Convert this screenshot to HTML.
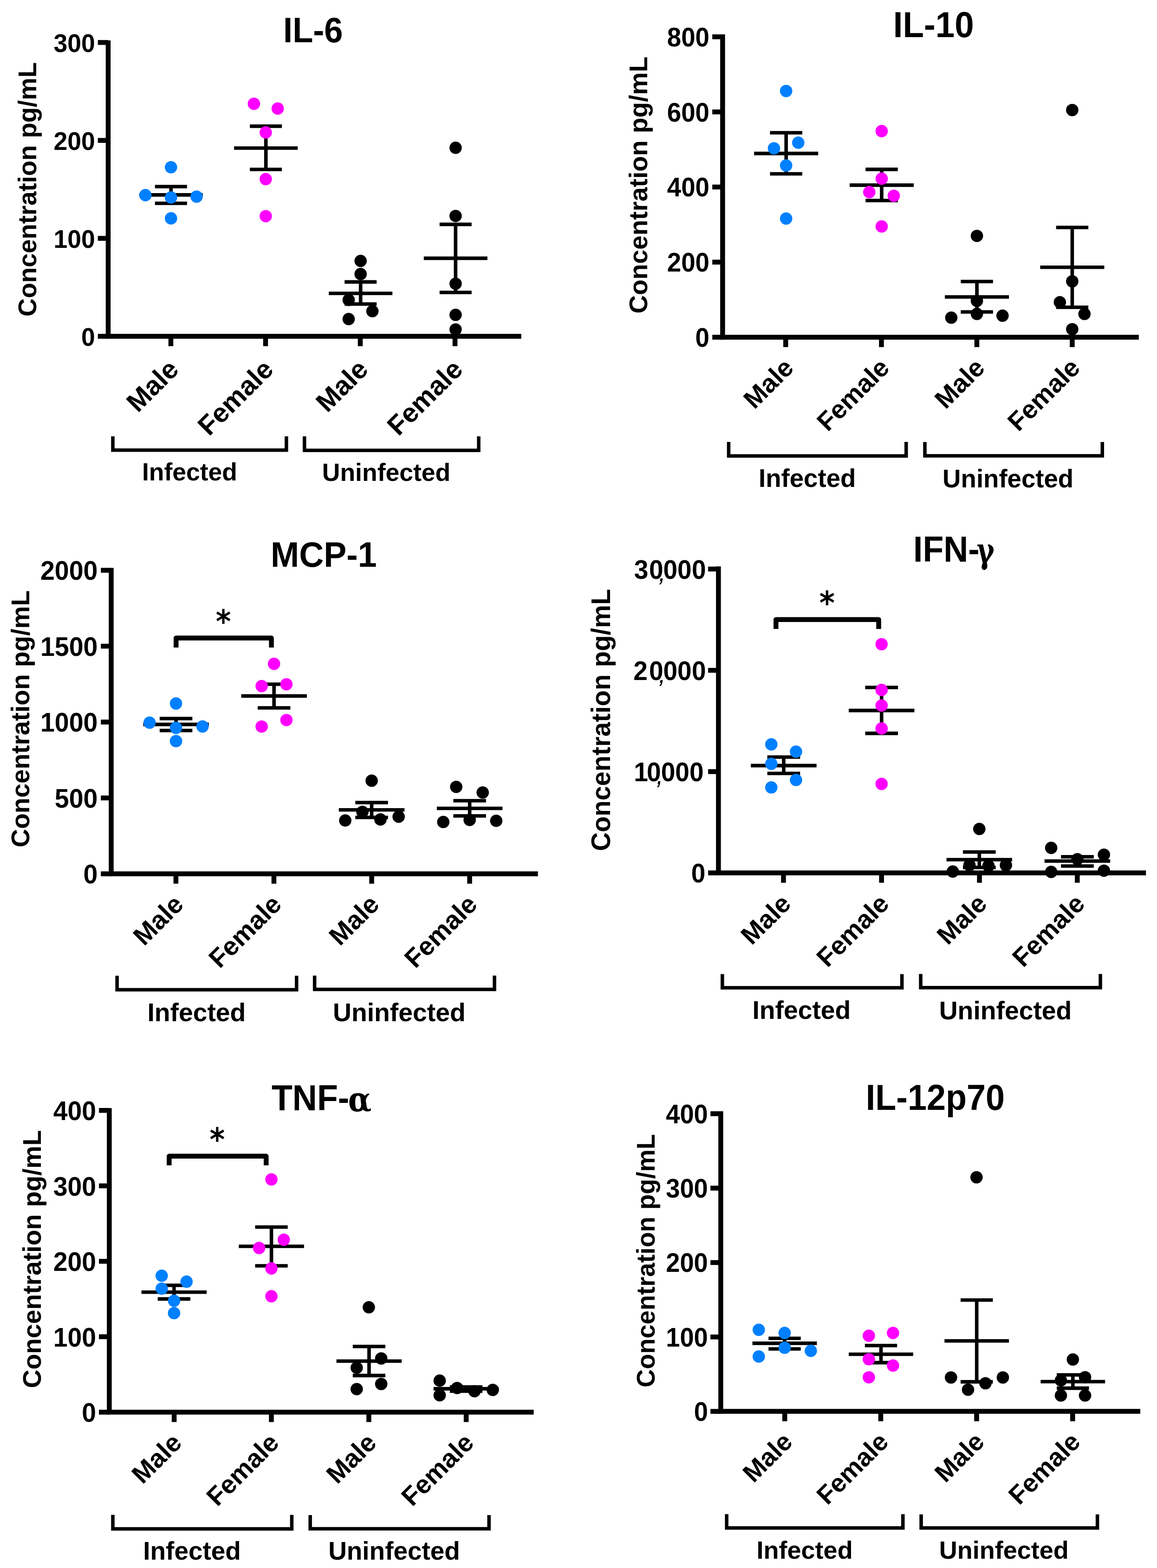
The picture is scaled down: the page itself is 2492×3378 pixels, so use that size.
<!DOCTYPE html>
<html><head><meta charset="utf-8"><title>Cytokine concentrations</title>
<style>html,body{margin:0;padding:0;background:#fff;overflow:hidden;}svg{display:block;}</style></head><body>
<svg width="2492" height="3378" viewBox="0 0 2492 3378" font-family="'Liberation Sans', Arial, Helvetica, sans-serif" font-weight="bold" fill="#000">
<rect width="2492" height="3378" fill="#fff"/>
<g>
<path d="M233.00 87.00V724.50" stroke="#000" stroke-width="10.5" fill="none"/>
<path d="M227.75 724.50H1122.70" stroke="#000" stroke-width="10.5" fill="none"/>
<path d="M210.75 724.50H233.00" stroke="#000" stroke-width="10.5" fill="none"/>
<path d="M210.75 513.50H233.00" stroke="#000" stroke-width="10.5" fill="none"/>
<path d="M210.75 302.50H233.00" stroke="#000" stroke-width="10.5" fill="none"/>
<path d="M210.75 91.50H233.00" stroke="#000" stroke-width="10.5" fill="none"/>
<path d="M368.00 724.50V745.75" stroke="#000" stroke-width="10.5" fill="none"/>
<path d="M572.00 724.50V745.75" stroke="#000" stroke-width="10.5" fill="none"/>
<path d="M776.00 724.50V745.75" stroke="#000" stroke-width="10.5" fill="none"/>
<path d="M980.00 724.50V745.75" stroke="#000" stroke-width="10.5" fill="none"/>
<text x="175.04" y="0" font-size="53.50" transform="translate(0 744.66) scale(1 1.04)">0</text>
<text x="115.53" y="0" font-size="53.50" transform="translate(0 533.66) scale(1 1.04)">100</text>
<text x="115.53" y="0" font-size="53.50" transform="translate(0 322.66) scale(1 1.04)">200</text>
<text x="115.53" y="0" font-size="53.50" transform="translate(0 111.66) scale(1 1.04)">300</text>
<text x="-2.24" y="0" font-size="54.50" transform="translate(77.60 679.70) rotate(-90) scale(1 1.02)">Concentration pg/mL</text>
<text x="610.06" y="0" font-size="72.30" transform="translate(0 91.30) scale(1 1.04)">IL-6</text>
<text x="0" y="0" font-size="58.20" text-anchor="end" transform="translate(388.10 799.40) rotate(-45)">Male</text>
<text x="0" y="0" font-size="58.20" text-anchor="end" transform="translate(592.10 799.40) rotate(-45)">Female</text>
<text x="0" y="0" font-size="58.20" text-anchor="end" transform="translate(796.10 799.40) rotate(-45)">Male</text>
<text x="0" y="0" font-size="58.20" text-anchor="end" transform="translate(1000.10 799.40) rotate(-45)">Female</text>
<path d="M243.05 940.00V969.75H616.85V940.00" stroke="#000" stroke-width="7.5" fill="none" stroke-linejoin="miter"/>
<path d="M655.75 940.00V970.25H1031.05V940.00" stroke="#000" stroke-width="7.5" fill="none" stroke-linejoin="miter"/>
<text x="305.92" y="1034.70" font-size="53.50">Infected</text>
<text x="693.79" y="1035.50" font-size="53.50">Uninfected</text>
<path d="M368.30 402.00V438.00M333.80 402.00H402.80M333.80 438.00H402.80M299.80 419.90H436.80" stroke="#000" stroke-width="7.6" fill="none"/>
<path d="M572.70 271.90V365.00M538.20 271.90H607.20M538.20 365.00H607.20M504.20 319.00H641.20" stroke="#000" stroke-width="7.6" fill="none"/>
<path d="M776.70 607.40V655.00M742.20 607.40H811.20M742.20 655.00H811.20M708.20 632.00H845.20" stroke="#000" stroke-width="7.6" fill="none"/>
<path d="M981.30 483.40V630.00M946.80 483.40H1015.80M946.80 630.00H1015.80M912.80 556.40H1049.80" stroke="#000" stroke-width="7.6" fill="none"/>
<circle cx="368.30" cy="360.30" r="13.3" fill="#0080ff"/>
<circle cx="313.20" cy="420.40" r="13.3" fill="#0080ff"/>
<circle cx="368.30" cy="425.40" r="13.3" fill="#0080ff"/>
<circle cx="423.40" cy="423.50" r="13.3" fill="#0080ff"/>
<circle cx="368.30" cy="470.40" r="13.3" fill="#0080ff"/>
<circle cx="546.90" cy="223.50" r="13.3" fill="#ff00ff"/>
<circle cx="598.20" cy="233.90" r="13.3" fill="#ff00ff"/>
<circle cx="572.40" cy="285.40" r="13.3" fill="#ff00ff"/>
<circle cx="572.40" cy="385.80" r="13.3" fill="#ff00ff"/>
<circle cx="572.40" cy="465.70" r="13.3" fill="#ff00ff"/>
<circle cx="776.70" cy="562.10" r="13.3" fill="#000000"/>
<circle cx="776.70" cy="590.40" r="13.3" fill="#000000"/>
<circle cx="751.00" cy="646.10" r="13.3" fill="#000000"/>
<circle cx="802.10" cy="670.30" r="13.3" fill="#000000"/>
<circle cx="751.00" cy="687.30" r="13.3" fill="#000000"/>
<circle cx="981.30" cy="318.30" r="13.3" fill="#000000"/>
<circle cx="981.30" cy="465.20" r="13.3" fill="#000000"/>
<circle cx="981.30" cy="611.20" r="13.3" fill="#000000"/>
<circle cx="981.30" cy="678.30" r="13.3" fill="#000000"/>
<circle cx="981.30" cy="709.80" r="13.3" fill="#000000"/>
</g>
<g>
<path d="M1556.40 74.00V726.50" stroke="#000" stroke-width="10.5" fill="none"/>
<path d="M1551.15 726.50H2452.80" stroke="#000" stroke-width="10.5" fill="none"/>
<path d="M1534.15 726.50H1556.40" stroke="#000" stroke-width="10.5" fill="none"/>
<path d="M1534.15 564.70H1556.40" stroke="#000" stroke-width="10.5" fill="none"/>
<path d="M1534.15 402.90H1556.40" stroke="#000" stroke-width="10.5" fill="none"/>
<path d="M1534.15 241.10H1556.40" stroke="#000" stroke-width="10.5" fill="none"/>
<path d="M1534.15 79.30H1556.40" stroke="#000" stroke-width="10.5" fill="none"/>
<path d="M1692.30 726.50V747.75" stroke="#000" stroke-width="10.5" fill="none"/>
<path d="M1898.50 726.50V747.75" stroke="#000" stroke-width="10.5" fill="none"/>
<path d="M2104.00 726.50V747.75" stroke="#000" stroke-width="10.5" fill="none"/>
<path d="M2309.40 726.50V747.75" stroke="#000" stroke-width="10.5" fill="none"/>
<text x="1497.62" y="0" font-size="54.70" transform="translate(0 747.09) scale(1 1.04)">0</text>
<text x="1436.78" y="0" font-size="54.70" transform="translate(0 585.29) scale(1 1.04)">200</text>
<text x="1436.78" y="0" font-size="54.70" transform="translate(0 423.49) scale(1 1.04)">400</text>
<text x="1436.78" y="0" font-size="54.70" transform="translate(0 261.69) scale(1 1.04)">600</text>
<text x="1436.78" y="0" font-size="54.70" transform="translate(0 99.89) scale(1 1.04)">800</text>
<text x="-2.26" y="0" font-size="55.06" transform="translate(1393.80 673.30) rotate(-90) scale(1 1.02)">Concentration pg/mL</text>
<text x="1923.72" y="0" font-size="74.50" transform="translate(0 79.90) scale(1 1.035)">IL-10</text>
<text x="0" y="0" font-size="55.80" text-anchor="end" transform="translate(1712.40 795.70) rotate(-45)">Male</text>
<text x="0" y="0" font-size="55.80" text-anchor="end" transform="translate(1918.60 795.70) rotate(-45)">Female</text>
<text x="0" y="0" font-size="55.80" text-anchor="end" transform="translate(2124.10 795.70) rotate(-45)">Male</text>
<text x="0" y="0" font-size="55.80" text-anchor="end" transform="translate(2329.50 795.70) rotate(-45)">Female</text>
<path d="M1569.45 952.10V982.25H1951.75V952.10" stroke="#000" stroke-width="7.5" fill="none" stroke-linejoin="miter"/>
<path d="M1992.05 952.20V981.95H2374.25V952.20" stroke="#000" stroke-width="7.5" fill="none" stroke-linejoin="miter"/>
<text x="1634.05" y="1049.20" font-size="54.60">Infected</text>
<text x="2030.12" y="1049.70" font-size="54.60">Uninfected</text>
<path d="M1693.20 286.00V374.50M1658.50 286.00H1727.90M1658.50 374.50H1727.90M1624.20 330.60H1762.20" stroke="#000" stroke-width="7.6" fill="none"/>
<path d="M1899.00 364.90V432.00M1864.30 364.90H1933.70M1864.30 432.00H1933.70M1830.00 398.90H1968.00" stroke="#000" stroke-width="7.6" fill="none"/>
<path d="M2104.10 606.50V672.00M2069.40 606.50H2138.80M2069.40 672.00H2138.80M2035.10 639.80H2173.10" stroke="#000" stroke-width="7.6" fill="none"/>
<path d="M2309.40 490.00V662.00M2274.70 490.00H2344.10M2274.70 662.00H2344.10M2240.40 575.80H2378.40" stroke="#000" stroke-width="7.6" fill="none"/>
<circle cx="1693.20" cy="196.00" r="13.3" fill="#0080ff"/>
<circle cx="1719.30" cy="307.40" r="13.3" fill="#0080ff"/>
<circle cx="1667.00" cy="319.50" r="13.3" fill="#0080ff"/>
<circle cx="1693.20" cy="356.50" r="13.3" fill="#0080ff"/>
<circle cx="1693.20" cy="470.80" r="13.3" fill="#0080ff"/>
<circle cx="1899.00" cy="282.40" r="13.3" fill="#ff00ff"/>
<circle cx="1899.00" cy="384.90" r="13.3" fill="#ff00ff"/>
<circle cx="1872.30" cy="413.90" r="13.3" fill="#ff00ff"/>
<circle cx="1925.10" cy="421.70" r="13.3" fill="#ff00ff"/>
<circle cx="1899.00" cy="487.80" r="13.3" fill="#ff00ff"/>
<circle cx="2104.10" cy="508.20" r="13.3" fill="#000000"/>
<circle cx="2104.10" cy="648.00" r="13.3" fill="#000000"/>
<circle cx="2104.10" cy="676.30" r="13.3" fill="#000000"/>
<circle cx="2048.90" cy="684.30" r="13.3" fill="#000000"/>
<circle cx="2159.30" cy="680.10" r="13.3" fill="#000000"/>
<circle cx="2309.40" cy="237.00" r="13.3" fill="#000000"/>
<circle cx="2309.40" cy="606.00" r="13.3" fill="#000000"/>
<circle cx="2282.80" cy="651.10" r="13.3" fill="#000000"/>
<circle cx="2335.80" cy="676.30" r="13.3" fill="#000000"/>
<circle cx="2309.40" cy="709.20" r="13.3" fill="#000000"/>
</g>
<g>
<path d="M239.50 1223.40V1882.50" stroke="#000" stroke-width="10.5" fill="none"/>
<path d="M234.25 1882.50H1158.60" stroke="#000" stroke-width="10.5" fill="none"/>
<path d="M217.25 1882.50H239.50" stroke="#000" stroke-width="10.5" fill="none"/>
<path d="M217.25 1719.03H239.50" stroke="#000" stroke-width="10.5" fill="none"/>
<path d="M217.25 1555.55H239.50" stroke="#000" stroke-width="10.5" fill="none"/>
<path d="M217.25 1392.08H239.50" stroke="#000" stroke-width="10.5" fill="none"/>
<path d="M217.25 1228.60H239.50" stroke="#000" stroke-width="10.5" fill="none"/>
<path d="M378.90 1882.50V1903.75" stroke="#000" stroke-width="10.5" fill="none"/>
<path d="M590.00 1882.50V1903.75" stroke="#000" stroke-width="10.5" fill="none"/>
<path d="M800.50 1882.50V1903.75" stroke="#000" stroke-width="10.5" fill="none"/>
<path d="M1011.50 1882.50V1903.75" stroke="#000" stroke-width="10.5" fill="none"/>
<text x="179.61" y="0" font-size="55.50" transform="translate(0 1903.38) scale(1 1.04)">0</text>
<text x="117.88" y="0" font-size="55.50" transform="translate(0 1739.90) scale(1 1.04)">500</text>
<text x="87.01" y="0" font-size="55.50" transform="translate(0 1576.43) scale(1 1.04)">1000</text>
<text x="87.01" y="0" font-size="55.50" transform="translate(0 1412.95) scale(1 1.04)">1500</text>
<text x="87.01" y="0" font-size="55.50" transform="translate(0 1249.48) scale(1 1.04)">2000</text>
<text x="-2.26" y="0" font-size="55.06" transform="translate(63.00 1823.30) rotate(-90) scale(1 1.02)">Concentration pg/mL</text>
<text x="582.98" y="0" font-size="73.50" transform="translate(0 1220.80) scale(1 1.046)">MCP-1</text>
<text x="0" y="0" font-size="56.00" text-anchor="end" transform="translate(398.40 1951.80) rotate(-45)">Male</text>
<text x="0" y="0" font-size="56.00" text-anchor="end" transform="translate(609.50 1951.80) rotate(-45)">Female</text>
<text x="0" y="0" font-size="56.00" text-anchor="end" transform="translate(820.00 1951.80) rotate(-45)">Male</text>
<text x="0" y="0" font-size="56.00" text-anchor="end" transform="translate(1031.00 1951.80) rotate(-45)">Female</text>
<path d="M252.15 2102.10V2132.25H638.75V2102.10" stroke="#000" stroke-width="7.5" fill="none" stroke-linejoin="miter"/>
<path d="M677.65 2101.70V2131.55H1065.05V2101.70" stroke="#000" stroke-width="7.5" fill="none" stroke-linejoin="miter"/>
<text x="317.40" y="2200.00" font-size="55.30">Infected</text>
<text x="716.98" y="2199.50" font-size="55.30">Uninfected</text>
<path d="M379.25 1395.00V1374.45H584.55V1395.00" stroke="#000" stroke-width="10.5" fill="none" stroke-linejoin="round"/>
<text x="-18.04" y="0" font-size="69.00" font-family="'DejaVu Sans', sans-serif" transform="translate(481.05 1363.07) scale(0.903 1)">*</text>
<path d="M379.10 1548.00V1573.70M343.90 1548.00H414.30M343.90 1573.70H414.30M308.40 1560.60H449.80" stroke="#000" stroke-width="7.6" fill="none"/>
<path d="M590.20 1474.00V1525.00M555.00 1474.00H625.40M555.00 1525.00H625.40M519.50 1499.40H660.90" stroke="#000" stroke-width="7.6" fill="none"/>
<path d="M800.50 1729.00V1761.00M765.30 1729.00H835.70M765.30 1761.00H835.70M729.80 1744.80H871.20" stroke="#000" stroke-width="7.6" fill="none"/>
<path d="M1011.60 1725.00V1757.70M976.40 1725.00H1046.80M976.40 1757.70H1046.80M940.90 1741.50H1082.30" stroke="#000" stroke-width="7.6" fill="none"/>
<circle cx="379.10" cy="1515.60" r="13.3" fill="#0080ff"/>
<circle cx="322.20" cy="1556.80" r="13.3" fill="#0080ff"/>
<circle cx="379.10" cy="1568.10" r="13.3" fill="#0080ff"/>
<circle cx="436.20" cy="1565.00" r="13.3" fill="#0080ff"/>
<circle cx="379.10" cy="1596.50" r="13.3" fill="#0080ff"/>
<circle cx="590.20" cy="1430.10" r="13.3" fill="#ff00ff"/>
<circle cx="616.90" cy="1474.20" r="13.3" fill="#ff00ff"/>
<circle cx="563.60" cy="1478.00" r="13.3" fill="#ff00ff"/>
<circle cx="616.90" cy="1551.20" r="13.3" fill="#ff00ff"/>
<circle cx="563.60" cy="1565.20" r="13.3" fill="#ff00ff"/>
<circle cx="800.50" cy="1681.90" r="13.3" fill="#000000"/>
<circle cx="780.60" cy="1749.00" r="13.3" fill="#000000"/>
<circle cx="743.60" cy="1767.60" r="13.3" fill="#000000"/>
<circle cx="819.40" cy="1765.40" r="13.3" fill="#000000"/>
<circle cx="858.60" cy="1759.40" r="13.3" fill="#000000"/>
<circle cx="982.60" cy="1695.20" r="13.3" fill="#000000"/>
<circle cx="1039.70" cy="1707.30" r="13.3" fill="#000000"/>
<circle cx="1011.60" cy="1766.40" r="13.3" fill="#000000"/>
<circle cx="954.70" cy="1770.80" r="13.3" fill="#000000"/>
<circle cx="1068.80" cy="1768.30" r="13.3" fill="#000000"/>
</g>
<g>
<path d="M1547.40 1220.20V1880.50" stroke="#000" stroke-width="10.5" fill="none"/>
<path d="M1542.15 1880.50H2468.20" stroke="#000" stroke-width="10.5" fill="none"/>
<path d="M1525.15 1880.50H1547.40" stroke="#000" stroke-width="10.5" fill="none"/>
<path d="M1525.15 1662.30H1547.40" stroke="#000" stroke-width="10.5" fill="none"/>
<path d="M1525.15 1444.10H1547.40" stroke="#000" stroke-width="10.5" fill="none"/>
<path d="M1525.15 1225.90H1547.40" stroke="#000" stroke-width="10.5" fill="none"/>
<path d="M1687.50 1880.50V1901.75" stroke="#000" stroke-width="10.5" fill="none"/>
<path d="M1898.70 1880.50V1901.75" stroke="#000" stroke-width="10.5" fill="none"/>
<path d="M2109.60 1880.50V1901.75" stroke="#000" stroke-width="10.5" fill="none"/>
<path d="M2320.30 1880.50V1901.75" stroke="#000" stroke-width="10.5" fill="none"/>
<text x="1488.77" y="0" font-size="55.00" transform="translate(0 1901.20) scale(1 1.04)">0</text>
<text x="1365.14 1393.12 1414.04 1423.72 1454.32 1485.02" y="0" font-size="55.0" transform="translate(0 1682.80) scale(1 1.04)">10<tspan font-size="53" font-weight="normal" font-style="italic" dy="5.93">,</tspan><tspan dy="-5.93">000</tspan></text>
<text x="1364.29 1398.12 1418.94 1428.62 1459.12 1489.92" y="0" font-size="55.0" transform="translate(0 1464.90) scale(1 1.04)">20<tspan font-size="53" font-weight="normal" font-style="italic" dy="5.54">,</tspan><tspan dy="-5.54">000</tspan></text>
<text x="1365.84 1398.12 1418.94 1428.62 1459.12 1489.92" y="0" font-size="55.0" transform="translate(0 1247.20) scale(1 1.04)">30<tspan font-size="53" font-weight="normal" font-style="italic" dy="4.97">,</tspan><tspan dy="-4.97">000</tspan></text>
<text x="-2.31" y="0" font-size="56.20" transform="translate(1313.50 1831.30) rotate(-90) scale(1 1.02)">Concentration pg/mL</text>
<text x="1966.98" y="0" font-size="73.5" transform="translate(0 1209.9) scale(1 1.06)">IFN-<tspan x="2103.7" y="2.08" font-size="71" font-family="'DejaVu Serif', serif" textLength="38.1" lengthAdjust="spacingAndGlyphs">&#947;</tspan></text>
<text x="0" y="0" font-size="55.80" text-anchor="end" transform="translate(1706.80 1950.40) rotate(-45)">Male</text>
<text x="0" y="0" font-size="55.80" text-anchor="end" transform="translate(1918.00 1950.40) rotate(-45)">Female</text>
<text x="0" y="0" font-size="55.80" text-anchor="end" transform="translate(2128.90 1950.40) rotate(-45)">Male</text>
<text x="0" y="0" font-size="55.80" text-anchor="end" transform="translate(2339.60 1950.40) rotate(-45)">Female</text>
<path d="M1555.85 2098.50V2128.05H1942.65V2098.50" stroke="#000" stroke-width="7.5" fill="none" stroke-linejoin="miter"/>
<path d="M1983.05 2098.30V2127.75H2370.05V2098.30" stroke="#000" stroke-width="7.5" fill="none" stroke-linejoin="miter"/>
<text x="1620.40" y="2195.00" font-size="55.30">Infected</text>
<text x="2022.68" y="2196.00" font-size="55.30">Uninfected</text>
<path d="M1671.35 1354.90V1334.75H1892.55V1354.90" stroke="#000" stroke-width="10.5" fill="none" stroke-linejoin="round"/>
<text x="-18.04" y="0" font-size="69.00" font-family="'DejaVu Sans', sans-serif" transform="translate(1781.25 1323.27) scale(0.921 1)">*</text>
<path d="M1688.00 1631.00V1666.30M1652.70 1631.00H1723.30M1652.70 1666.30H1723.30M1617.30 1649.40H1758.70" stroke="#000" stroke-width="7.6" fill="none"/>
<path d="M1898.80 1481.00V1579.90M1863.50 1481.00H1934.10M1863.50 1579.90H1934.10M1828.10 1530.60H1969.50" stroke="#000" stroke-width="7.6" fill="none"/>
<path d="M2109.30 1835.50V1868.70M2074.00 1835.50H2144.60M2074.00 1868.70H2144.60M2038.60 1852.00H2180.00" stroke="#000" stroke-width="7.6" fill="none"/>
<path d="M2320.50 1845.80V1865.70M2285.20 1845.80H2355.80M2285.20 1865.70H2355.80M2249.80 1855.00H2391.20" stroke="#000" stroke-width="7.6" fill="none"/>
<circle cx="1661.30" cy="1603.60" r="13.3" fill="#0080ff"/>
<circle cx="1714.50" cy="1619.30" r="13.3" fill="#0080ff"/>
<circle cx="1661.30" cy="1645.50" r="13.3" fill="#0080ff"/>
<circle cx="1714.50" cy="1680.30" r="13.3" fill="#0080ff"/>
<circle cx="1661.30" cy="1696.30" r="13.3" fill="#0080ff"/>
<circle cx="1898.80" cy="1387.80" r="13.3" fill="#ff00ff"/>
<circle cx="1898.80" cy="1486.40" r="13.3" fill="#ff00ff"/>
<circle cx="1898.80" cy="1519.80" r="13.3" fill="#ff00ff"/>
<circle cx="1898.80" cy="1569.40" r="13.3" fill="#ff00ff"/>
<circle cx="1898.80" cy="1688.80" r="13.3" fill="#ff00ff"/>
<circle cx="2109.30" cy="1785.80" r="13.3" fill="#000000"/>
<circle cx="2088.10" cy="1863.90" r="13.3" fill="#000000"/>
<circle cx="2129.00" cy="1865.30" r="13.3" fill="#000000"/>
<circle cx="2166.60" cy="1864.00" r="13.3" fill="#000000"/>
<circle cx="2052.10" cy="1877.60" r="13.3" fill="#000000"/>
<circle cx="2264.10" cy="1826.60" r="13.3" fill="#000000"/>
<circle cx="2377.70" cy="1841.30" r="13.3" fill="#000000"/>
<circle cx="2320.50" cy="1851.10" r="13.3" fill="#000000"/>
<circle cx="2264.10" cy="1878.40" r="13.3" fill="#000000"/>
<circle cx="2377.70" cy="1875.70" r="13.3" fill="#000000"/>
</g>
<g>
<path d="M235.40 2387.30V3042.30" stroke="#000" stroke-width="10.5" fill="none"/>
<path d="M230.15 3042.30H1149.50" stroke="#000" stroke-width="10.5" fill="none"/>
<path d="M213.15 3042.30H235.40" stroke="#000" stroke-width="10.5" fill="none"/>
<path d="M213.15 2879.78H235.40" stroke="#000" stroke-width="10.5" fill="none"/>
<path d="M213.15 2717.25H235.40" stroke="#000" stroke-width="10.5" fill="none"/>
<path d="M213.15 2554.73H235.40" stroke="#000" stroke-width="10.5" fill="none"/>
<path d="M213.15 2392.20H235.40" stroke="#000" stroke-width="10.5" fill="none"/>
<path d="M375.10 3042.30V3063.55" stroke="#000" stroke-width="10.5" fill="none"/>
<path d="M584.50 3042.30V3063.55" stroke="#000" stroke-width="10.5" fill="none"/>
<path d="M794.40 3042.30V3063.55" stroke="#000" stroke-width="10.5" fill="none"/>
<path d="M1004.10 3042.30V3063.55" stroke="#000" stroke-width="10.5" fill="none"/>
<text x="176.31" y="0" font-size="55.30" transform="translate(0 3063.11) scale(1 1.04)">0</text>
<text x="114.80" y="0" font-size="55.30" transform="translate(0 2900.58) scale(1 1.04)">100</text>
<text x="114.80" y="0" font-size="55.30" transform="translate(0 2738.06) scale(1 1.04)">200</text>
<text x="114.80" y="0" font-size="55.30" transform="translate(0 2575.53) scale(1 1.04)">300</text>
<text x="114.80" y="0" font-size="55.30" transform="translate(0 2413.01) scale(1 1.04)">400</text>
<text x="-2.27" y="0" font-size="55.30" transform="translate(88.30 2988.20) rotate(-90) scale(1 1.02)">Concentration pg/mL</text>
<text x="584.97" y="0" font-size="73.5" transform="translate(0 2392.1) scale(1 1.056)">TNF-<tspan x="749.8" y="1.61" font-size="69.1" font-family="'DejaVu Serif', serif" textLength="50.6" lengthAdjust="spacingAndGlyphs">&#945;</tspan></text>
<text x="0" y="0" font-size="55.80" text-anchor="end" transform="translate(394.60 3111.60) rotate(-45)">Male</text>
<text x="0" y="0" font-size="55.80" text-anchor="end" transform="translate(604.00 3111.60) rotate(-45)">Female</text>
<text x="0" y="0" font-size="55.80" text-anchor="end" transform="translate(813.90 3111.60) rotate(-45)">Male</text>
<text x="0" y="0" font-size="55.80" text-anchor="end" transform="translate(1023.60 3111.60) rotate(-45)">Female</text>
<path d="M243.05 3263.60V3293.75H628.45V3263.60" stroke="#000" stroke-width="7.5" fill="none" stroke-linejoin="miter"/>
<path d="M668.15 3264.10V3293.55H1053.25V3264.10" stroke="#000" stroke-width="7.5" fill="none" stroke-linejoin="miter"/>
<text x="308.33" y="3360.00" font-size="54.90">Infected</text>
<text x="707.20" y="3359.50" font-size="54.90">Uninfected</text>
<path d="M364.35 2510.60V2490.85H573.25V2510.60" stroke="#000" stroke-width="10.5" fill="none" stroke-linejoin="round"/>
<text x="-18.04" y="0" font-size="69.00" font-family="'DejaVu Sans', sans-serif" transform="translate(467.90 2479.17) scale(0.906 1)">*</text>
<path d="M374.90 2769.00V2798.40M339.80 2769.00H410.00M339.80 2798.40H410.00M304.65 2783.70H445.15" stroke="#000" stroke-width="7.6" fill="none"/>
<path d="M584.60 2643.50V2727.00M549.50 2643.50H619.70M549.50 2727.00H619.70M514.35 2685.00H654.85" stroke="#000" stroke-width="7.6" fill="none"/>
<path d="M794.90 2900.70V2963.40M759.80 2900.70H830.00M759.80 2963.40H830.00M724.65 2932.30H865.15" stroke="#000" stroke-width="7.6" fill="none"/>
<path d="M1004.00 2988.00V2997.00M968.90 2988.00H1039.10M968.90 2997.00H1039.10M933.75 2991.90H1074.25" stroke="#000" stroke-width="7.6" fill="none"/>
<circle cx="348.30" cy="2748.30" r="13.3" fill="#0080ff"/>
<circle cx="401.80" cy="2761.10" r="13.3" fill="#0080ff"/>
<circle cx="348.30" cy="2776.20" r="13.3" fill="#0080ff"/>
<circle cx="374.90" cy="2802.30" r="13.3" fill="#0080ff"/>
<circle cx="374.90" cy="2828.90" r="13.3" fill="#0080ff"/>
<circle cx="584.60" cy="2540.80" r="13.3" fill="#ff00ff"/>
<circle cx="611.20" cy="2670.80" r="13.3" fill="#ff00ff"/>
<circle cx="558.00" cy="2688.50" r="13.3" fill="#ff00ff"/>
<circle cx="584.60" cy="2732.60" r="13.3" fill="#ff00ff"/>
<circle cx="584.60" cy="2792.60" r="13.3" fill="#ff00ff"/>
<circle cx="794.40" cy="2816.30" r="13.3" fill="#000000"/>
<circle cx="821.10" cy="2926.50" r="13.3" fill="#000000"/>
<circle cx="768.30" cy="2946.60" r="13.3" fill="#000000"/>
<circle cx="821.10" cy="2981.50" r="13.3" fill="#000000"/>
<circle cx="768.30" cy="2992.60" r="13.3" fill="#000000"/>
<circle cx="947.00" cy="2974.40" r="13.3" fill="#000000"/>
<circle cx="947.00" cy="3005.90" r="13.3" fill="#000000"/>
<circle cx="984.50" cy="2990.20" r="13.3" fill="#000000"/>
<circle cx="1022.00" cy="2997.20" r="13.3" fill="#000000"/>
<circle cx="1061.30" cy="2994.30" r="13.3" fill="#000000"/>
</g>
<g>
<path d="M1552.40 2394.10V3040.60" stroke="#000" stroke-width="10.5" fill="none"/>
<path d="M1547.15 3040.60H2456.00" stroke="#000" stroke-width="10.5" fill="none"/>
<path d="M1530.15 3040.60H1552.40" stroke="#000" stroke-width="10.5" fill="none"/>
<path d="M1530.15 2880.28H1552.40" stroke="#000" stroke-width="10.5" fill="none"/>
<path d="M1530.15 2719.95H1552.40" stroke="#000" stroke-width="10.5" fill="none"/>
<path d="M1530.15 2559.62H1552.40" stroke="#000" stroke-width="10.5" fill="none"/>
<path d="M1530.15 2399.30H1552.40" stroke="#000" stroke-width="10.5" fill="none"/>
<path d="M1690.20 3040.60V3061.85" stroke="#000" stroke-width="10.5" fill="none"/>
<path d="M1897.00 3040.60V3061.85" stroke="#000" stroke-width="10.5" fill="none"/>
<path d="M2103.50 3040.60V3061.85" stroke="#000" stroke-width="10.5" fill="none"/>
<path d="M2310.30 3040.60V3061.85" stroke="#000" stroke-width="10.5" fill="none"/>
<text x="1494.63" y="0" font-size="54.30" transform="translate(0 3061.05) scale(1 1.04)">0</text>
<text x="1434.23" y="0" font-size="54.30" transform="translate(0 2900.72) scale(1 1.04)">100</text>
<text x="1434.23" y="0" font-size="54.30" transform="translate(0 2740.40) scale(1 1.04)">200</text>
<text x="1434.23" y="0" font-size="54.30" transform="translate(0 2580.07) scale(1 1.04)">300</text>
<text x="1434.23" y="0" font-size="54.30" transform="translate(0 2419.75) scale(1 1.04)">400</text>
<text x="-2.23" y="0" font-size="54.30" transform="translate(1409.50 2986.70) rotate(-90) scale(1 1.02)">Concentration pg/mL</text>
<text x="1864.76" y="0" font-size="73.80" transform="translate(0 2391.10) scale(1 1.044)">IL-12p70</text>
<text x="0" y="0" font-size="55.30" text-anchor="end" transform="translate(1709.90 3109.40) rotate(-45)">Male</text>
<text x="0" y="0" font-size="55.30" text-anchor="end" transform="translate(1916.70 3109.40) rotate(-45)">Female</text>
<text x="0" y="0" font-size="55.30" text-anchor="end" transform="translate(2123.20 3109.40) rotate(-45)">Male</text>
<text x="0" y="0" font-size="55.30" text-anchor="end" transform="translate(2330.00 3109.40) rotate(-45)">Female</text>
<path d="M1565.15 3262.10V3291.65H1944.75V3262.10" stroke="#000" stroke-width="7.5" fill="none" stroke-linejoin="miter"/>
<path d="M1984.05 3262.50V3291.65H2363.65V3262.50" stroke="#000" stroke-width="7.5" fill="none" stroke-linejoin="miter"/>
<text x="1629.59" y="3357.60" font-size="54.00">Infected</text>
<text x="2022.76" y="3358.30" font-size="54.00">Uninfected</text>
<path d="M1690.00 2883.30V2906.00M1655.30 2883.30H1724.70M1655.30 2906.00H1724.70M1620.60 2893.90H1759.40" stroke="#000" stroke-width="7.6" fill="none"/>
<path d="M1897.50 2898.70V2935.60M1862.80 2898.70H1932.20M1862.80 2935.60H1932.20M1828.10 2917.50H1966.90" stroke="#000" stroke-width="7.6" fill="none"/>
<path d="M2103.70 2800.80V2976.90M2069.00 2800.80H2138.40M2069.00 2976.90H2138.40M2034.30 2888.80H2173.10" stroke="#000" stroke-width="7.6" fill="none"/>
<path d="M2310.80 2962.00V2990.60M2276.10 2962.00H2345.50M2276.10 2990.60H2345.50M2241.40 2976.50H2380.20" stroke="#000" stroke-width="7.6" fill="none"/>
<circle cx="1634.30" cy="2864.80" r="13.3" fill="#0080ff"/>
<circle cx="1690.00" cy="2871.60" r="13.3" fill="#0080ff"/>
<circle cx="1690.00" cy="2903.50" r="13.3" fill="#0080ff"/>
<circle cx="1746.40" cy="2910.10" r="13.3" fill="#0080ff"/>
<circle cx="1634.30" cy="2922.40" r="13.3" fill="#0080ff"/>
<circle cx="1923.40" cy="2871.60" r="13.3" fill="#ff00ff"/>
<circle cx="1871.40" cy="2877.60" r="13.3" fill="#ff00ff"/>
<circle cx="1871.40" cy="2928.20" r="13.3" fill="#ff00ff"/>
<circle cx="1923.40" cy="2941.80" r="13.3" fill="#ff00ff"/>
<circle cx="1871.40" cy="2967.20" r="13.3" fill="#ff00ff"/>
<circle cx="2103.30" cy="2536.30" r="13.3" fill="#000000"/>
<circle cx="2048.30" cy="2967.50" r="13.3" fill="#000000"/>
<circle cx="2160.00" cy="2967.50" r="13.3" fill="#000000"/>
<circle cx="2122.50" cy="2980.00" r="13.3" fill="#000000"/>
<circle cx="2085.00" cy="2993.80" r="13.3" fill="#000000"/>
<circle cx="2310.80" cy="2928.80" r="13.3" fill="#000000"/>
<circle cx="2337.00" cy="2967.00" r="13.3" fill="#000000"/>
<circle cx="2285.00" cy="2973.80" r="13.3" fill="#000000"/>
<circle cx="2285.00" cy="3006.30" r="13.3" fill="#000000"/>
<circle cx="2337.00" cy="3006.30" r="13.3" fill="#000000"/>
</g>
</svg></body></html>
